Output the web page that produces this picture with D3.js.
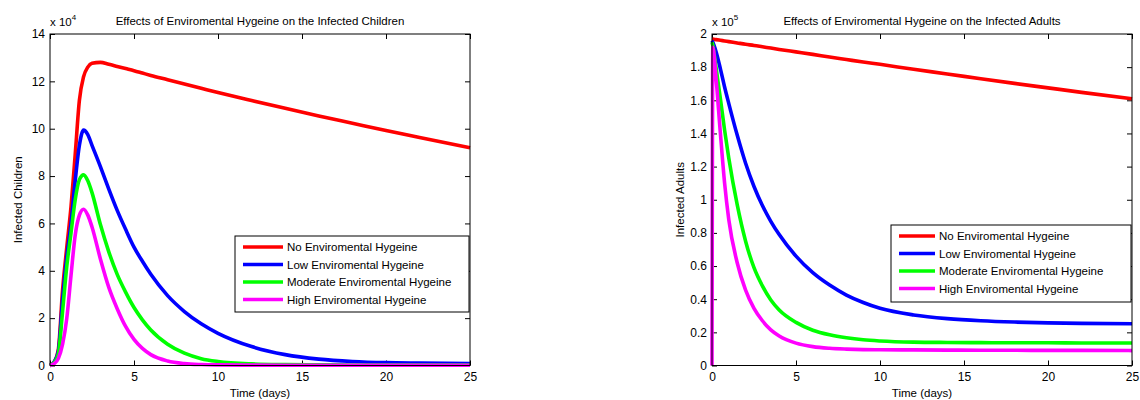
<!DOCTYPE html>
<html>
<head>
<meta charset="utf-8">
<script src="https://cdn.jsdelivr.net/npm/d3@7"></script>
<style>
  body { margin: 0; background: #fff; }
  svg text { font-family: "Liberation Sans", Arial, sans-serif; fill: #000; }
  .tick text { font-size: 12px; }
  .title, .axis-label, .legend text, .exponent { font-size: 11.5px; }
</style>
</head>
<body>
<svg id="chart"></svg>
<script>
// legend entries and colours
const seriesNames = ['No Enviromental Hygeine', 'Low Enviromental Hygeine', 'Moderate Enviromental Hygeine', 'High Enviromental Hygeine'];
const seriesColors = ['#ff0000', '#0000ff', '#00ff00', '#ff00ff'];

// children, values in units of 10^4
const timeChildren = [0, 0.25, 0.5, 0.75, 1, 1.25, 1.5, 1.75, 2, 2.25, 2.5, 3, 3.5, 4, 4.5, 5, 5.5, 6, 7, 8, 9, 10, 12, 14, 16, 18, 20, 22, 25];
const childrenNone = [0, 0.15, 0.7, 3.2, 5.0, 6.7, 8.9, 11.2, 12.2, 12.6, 12.76, 12.8, 12.72, 12.63, 12.54, 12.45, 12.35, 12.25, 12.07, 11.89, 11.71, 11.53, 11.19, 10.86, 10.54, 10.23, 9.92, 9.63, 9.2];
const childrenLow = [0, 0.15, 0.6, 2.8, 4.6, 6.0, 7.8, 9.3, 9.94, 9.75, 9.3, 8.4, 7.45, 6.55, 5.75, 5.0, 4.4, 3.85, 2.95, 2.28, 1.76, 1.36, 0.8, 0.46, 0.27, 0.17, 0.12, 0.1, 0.08];
const childrenModerate = [0, 0.12, 0.5, 2.3, 4.2, 5.6, 7.0, 7.85, 8.05, 7.8, 7.3, 5.95, 4.8, 3.85, 3.1, 2.45, 1.93, 1.5, 0.9, 0.52, 0.29, 0.17, 0.07, 0.04, 0.03, 0.02, 0.02, 0.02, 0.02];
const childrenHigh = [0, 0.08, 0.3, 0.9, 2.0, 3.8, 5.5, 6.35, 6.6, 6.35, 5.85, 4.5, 3.3, 2.4, 1.65, 1.1, 0.72, 0.46, 0.19, 0.08, 0.04, 0.025, 0.015, 0.01, 0.01, 0.01, 0.01, 0.01, 0.01];
const childrenTicks = [0, 2, 4, 6, 8, 10, 12, 14];

// adults, values in units of 10^5
const timeAdults = [0, 0.05, 0.25, 0.5, 0.75, 1, 1.5, 2, 2.5, 3, 3.5, 4, 5, 6, 7, 8, 9, 10, 12, 14, 16, 18, 20, 22, 25];
const adultsNone = [1.970, 1.969, 1.966, 1.962, 1.958, 1.954, 1.946, 1.938, 1.931, 1.923, 1.915, 1.907, 1.892, 1.877, 1.861, 1.846, 1.831, 1.817, 1.787, 1.759, 1.730, 1.702, 1.675, 1.648, 1.609];
const adultsLow = [1.96, 1.95, 1.89, 1.79, 1.68, 1.58, 1.39, 1.22, 1.08, 0.965, 0.87, 0.79, 0.66, 0.56, 0.485, 0.425, 0.38, 0.345, 0.305, 0.283, 0.27, 0.262, 0.257, 0.254, 0.252];
const adultsModerate = [1.95, 1.93, 1.79, 1.61, 1.42, 1.25, 0.97, 0.75, 0.59, 0.48, 0.395, 0.335, 0.26, 0.213, 0.185, 0.167, 0.155, 0.148, 0.141, 0.139, 0.138, 0.137, 0.137, 0.136, 0.136];
const adultsHigh = [0, 1.92, 1.72, 1.40, 1.10, 0.88, 0.62, 0.455, 0.345, 0.27, 0.215, 0.178, 0.135, 0.114, 0.104, 0.099, 0.096, 0.095, 0.094, 0.093, 0.092, 0.092, 0.091, 0.091, 0.09];
const adultsTicks = [0, 0.2, 0.4, 0.6, 0.8, 1, 1.2, 1.4, 1.6, 1.8, 2];

const timeTicks = [0, 5, 10, 15, 20, 25];

class LinePlot {

    constructor(_config, time, series) {
        this.config = {
            svg: _config.svg,
            left: _config.left,
            top: _config.top,
            width: _config.width,
            height: _config.height,
            yMax: _config.yMax,
            yTicks: _config.yTicks,
            exponent: _config.exponent,
            title: _config.title,
            yLabel: _config.yLabel,
            legend: _config.legend
        };
        this.time = time;
        this.series = series;
        this.initVis();
    }

    initVis() {
        let vis = this;
        const c = vis.config;

        vis.chart = c.svg.append('g')
            .attr('transform', `translate(${c.left}, ${c.top})`);

        vis.xScale = d3.scaleLinear().domain([0, 25]).range([0, c.width]);
        vis.yScale = d3.scaleLinear().domain([0, c.yMax]).range([c.height, 0]);

        // matlab style box with inward ticks on all four sides
        const tick = 5;
        vis.chart.append('g')
            .attr('transform', `translate(0, ${c.height})`)
            .call(d3.axisBottom(vis.xScale).tickValues(timeTicks).tickSizeInner(-tick).tickSizeOuter(0).tickPadding(7));
        vis.chart.append('g')
            .call(d3.axisTop(vis.xScale).tickValues(timeTicks).tickSizeInner(-tick).tickSizeOuter(0).tickFormat(''));
        vis.chart.append('g')
            .call(d3.axisLeft(vis.yScale).tickValues(c.yTicks).tickSizeInner(-tick).tickSizeOuter(0).tickPadding(5)
                .tickFormat(d => String(d)));
        vis.chart.append('g')
            .attr('transform', `translate(${c.width}, 0)`)
            .call(d3.axisRight(vis.yScale).tickValues(c.yTicks).tickSizeInner(-tick).tickSizeOuter(0).tickFormat(''));
        vis.chart.selectAll('.domain').remove();
        vis.chart.selectAll('.tick line').attr('stroke', '#000');

        vis.line = d3.line()
            .x((d, i) => vis.xScale(vis.time[i]))
            .y(d => vis.yScale(d))
            .curve(d3.curveMonotoneX);

        vis.chart.append('g')
            .selectAll('path')
            .data(vis.series)
            .join('path')
                .attr('d', d => vis.line(d))
                .attr('fill', 'none')
                .attr('stroke', (d, i) => seriesColors[i])
                .attr('stroke-width', 3.6)
                .attr('stroke-linejoin', 'round');

        vis.chart.append('rect')
            .attr('width', c.width).attr('height', c.height)
            .attr('fill', 'none').attr('stroke', '#000').attr('stroke-width', 1);

        // labels
        vis.chart.append('text')
            .attr('class', 'title')
            .attr('x', c.width / 2)
            .attr('y', -9)
            .attr('text-anchor', 'middle')
            .text(c.title);

        const exp = vis.chart.append('text')
            .attr('class', 'exponent')
            .attr('x', 0)
            .attr('y', -8)
            .text('x 10');
        exp.append('tspan')
            .attr('dy', -6)
            .style('font-size', '8px')
            .text(c.exponent);

        vis.chart.append('text')
            .attr('class', 'axis-label')
            .attr('x', c.width / 2)
            .attr('y', c.height + 31)
            .attr('text-anchor', 'middle')
            .text('Time (days)');

        vis.chart.append('text')
            .attr('class', 'axis-label')
            .attr('transform', 'rotate(-90)')
            .attr('x', -c.height / 2)
            .attr('y', -28)
            .attr('text-anchor', 'middle')
            .text(c.yLabel);

        // legend
        const lg = c.legend;
        const legend = vis.chart.append('g')
            .attr('class', 'legend')
            .attr('transform', `translate(${lg.x}, ${lg.y})`);
        legend.append('rect')
            .attr('width', lg.w).attr('height', lg.h)
            .attr('fill', '#fff').attr('stroke', '#000').attr('stroke-width', 1);
        const rows = legend.selectAll('.row')
            .data(seriesNames)
            .join('g')
                .attr('class', 'row')
                .attr('transform', (d, i) => `translate(0, ${11 + i * 17.5})`);
        rows.append('line')
            .attr('x1', 8).attr('x2', lg.lineEnd)
            .attr('stroke', (d, i) => seriesColors[i])
            .attr('stroke-width', 3.6);
        rows.append('text')
            .attr('x', lg.lineEnd + 4)
            .attr('dy', '0.36em')
            .text(d => d);
    }
}

const svg = d3.select('#chart')
    .attr('width', 1140)
    .attr('height', 400);

new LinePlot({
    svg: svg, left: 50, top: 34, width: 420, height: 331.5,
    yMax: 14, yTicks: childrenTicks, exponent: '4',
    title: 'Effects of Enviromental Hygeine on the Infected Children',
    yLabel: 'Infected Children',
    legend: { x: 185, y: 202, w: 234, h: 76, lineEnd: 48 }
}, timeChildren, [childrenNone, childrenLow, childrenModerate, childrenHigh]);

new LinePlot({
    svg: svg, left: 712, top: 34, width: 420, height: 331.5,
    yMax: 2, yTicks: adultsTicks, exponent: '5',
    title: 'Effects of Enviromental Hygeine on the Infected Adults',
    yLabel: 'Infected Adults',
    legend: { x: 179, y: 191, w: 240, h: 77, lineEnd: 44 }
}, timeAdults, [adultsNone, adultsLow, adultsModerate, adultsHigh]);
</script>
</body>
</html>
